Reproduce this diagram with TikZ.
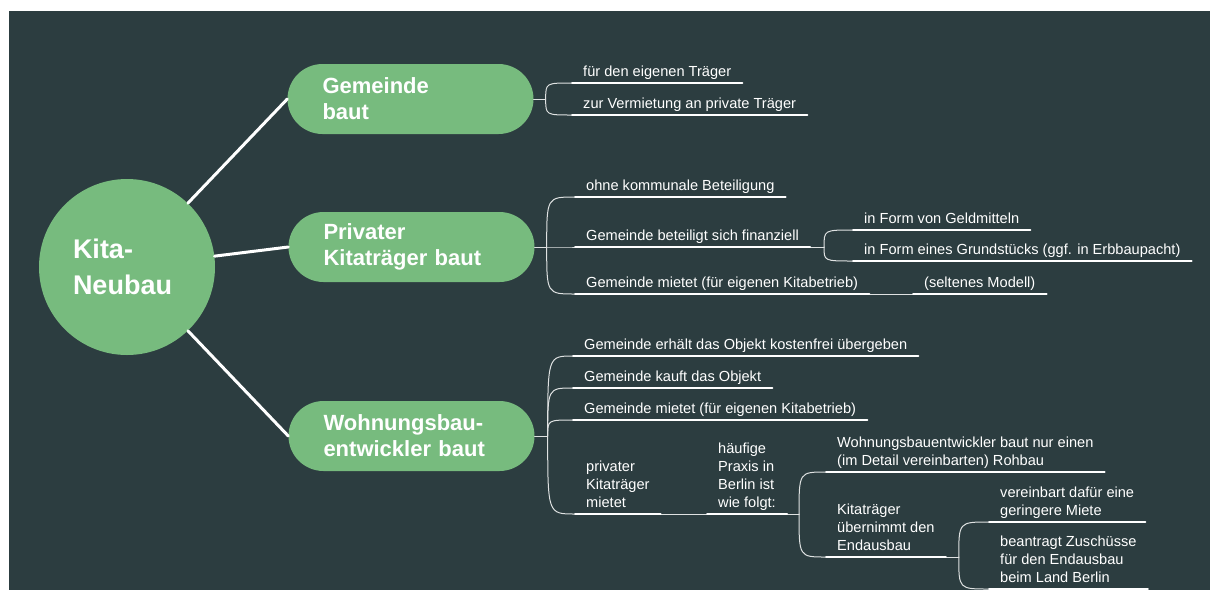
\documentclass[tikz,border=0pt]{standalone}
\usepackage{fontspec}
\setmainfont{Liberation Sans}
\usetikzlibrary{shapes.misc}
\definecolor{bgdark}{RGB}{44,61,64}
\definecolor{nodegreen}{RGB}{119,187,126}
\newcommand\leafbox[1]{\begin{tabular}[b]{@{}l@{}}#1\end{tabular}}
\begin{document}
\begin{tikzpicture}[x=1pt,y=-1pt,line join=round,line cap=round,
	root/.style={circle,fill=nodegreen,text=white,minimum size=176pt,inner sep=0pt,
		text width=108pt,align=left,font=\fontsize{27}{36}\selectfont\bfseries},
	branch/.style={rounded rectangle,fill=nodegreen,text=white,minimum height=70pt,
		minimum width=246pt,inner xsep=0pt,inner ysep=0pt,text width=176pt,align=left,
		font=\fontsize{22}{26}\selectfont\bfseries},
	leaf/.style={anchor=south west,text=white,inner xsep=11pt,inner ysep=0pt,text depth=6.5pt,
		font=\fontsize{14.6}{18}\selectfont},
	main/.style={draw=white,line width=3pt},
	conn/.style={draw=white!85!bgdark,line width=1pt},
	uline/.style={draw=white,line width=2pt}]
	\useasboundingbox (0,0) rectangle (1210,590);
	\fill[white] (0,0) rectangle (1210,590);
	\fill[bgdark] (9,11) rectangle (1210,590);
	\node[root] (kita) at (127,267) {Kita-\\Neubau};
	\node[branch] (gem) at (410.5,99) {Gemeinde\\baut};
	\node[branch] (priv) at (411.5,247) {Privater\\Kitaträger baut};
	\node[branch] (wohn) at (411.5,436) {Wohnungsbau-\\entwickler baut};
	\draw[main] (kita) -- (gem.west);
	\draw[main] (kita) -- (priv.west);
	\draw[main] (kita) -- (wohn.west);
	% Gemeinde baut
	\node[leaf] (gem1) at (572,83) {\leafbox{für den eigenen Träger}};
	\node[leaf] (gem2) at (572,115) {\leafbox{zur Vermietung an private Träger}};
	% Privater Kitaträger baut
	\node[leaf] (priv1) at (575,197) {\leafbox{ohne kommunale Beteiligung}};
	\node[leaf] (priv2) at (575,247) {\leafbox{Gemeinde beteiligt sich finanziell}};
	\node[leaf] (priv21) at (853,230) {\leafbox{in Form von Geldmitteln}};
	\node[leaf] (priv22) at (853,261) {\leafbox{in Form eines Grundstücks (ggf. in Erbbaupacht)}};
	\node[leaf] (priv3) at (575,294) {\leafbox{Gemeinde mietet (für eigenen Kitabetrieb)}};
	\node[leaf] (priv31) at (913,294) {\leafbox{(seltenes Modell)}};
	% Wohnungsbauentwickler baut
	\node[leaf] (wohn1) at (573,356) {\leafbox{Gemeinde erhält das Objekt kostenfrei übergeben}};
	\node[leaf] (wohn2) at (573,388) {\leafbox{Gemeinde kauft das Objekt}};
	\node[leaf] (wohn3) at (573,420) {\leafbox{Gemeinde mietet (für eigenen Kitabetrieb)}};
	\node[leaf] (wohn4) at (575,514) {\leafbox{privater\\Kitaträger\\mietet}};
	\node[leaf] (wohn41) at (707,514) {\leafbox{häufige\\Praxis in\\Berlin ist\\wie folgt:}};
	\node[leaf] (wohn411) at (826,472) {\leafbox{Wohnungsbauentwickler baut nur einen\\(im Detail vereinbarten) Rohbau}};
	\node[leaf] (wohn412) at (826,557) {\leafbox{Kitaträger\\übernimmt den\\Endausbau}};
	\node[leaf] (wohn4121) at (989,522) {\leafbox{vereinbart dafür eine\\geringere Miete}};
	\node[leaf] (wohn4122) at (989,589) {\leafbox{beantragt Zuschüsse\\für den Endausbau\\beim Land Berlin}};
	\coordinate (gemJ) at ([xshift=12pt]gem.east);
	\coordinate (privJ) at ([xshift=12pt]priv.east);
	\coordinate (priv2J) at ([xshift=14pt]priv2.south east);
	\coordinate (wohnJ) at ([xshift=13pt]wohn.east);
	\coordinate (wohn41J) at ([xshift=12pt]wohn41.south east);
	\coordinate (wohn412J) at ([xshift=13pt]wohn412.south east);
	\draw[conn] (gem.east) -- (gemJ);
	\draw[conn] (priv.east) -- (privJ);
	\draw[conn] (wohn.east) -- (wohnJ);
	\draw[conn] (priv2.south east) -- (priv2J);
	\draw[conn] (wohn41.south east) -- (wohn41J);
	\draw[conn] (wohn412.south east) -- (wohn412J);
	\draw[conn] (priv3.south east) -- (priv31.south west);
	\draw[conn] (wohn4.south east) -- (wohn41.south west);
	\foreach \n in {gem1,gem2}
		\draw[conn] (gemJ) .. controls (gemJ |- \n.south west) .. (\n.south west);
	\foreach \n in {priv1,priv2,priv3}
		\draw[conn] (privJ) .. controls (privJ |- \n.south west) .. (\n.south west);
	\foreach \n in {priv21,priv22}
		\draw[conn] (priv2J) .. controls (priv2J |- \n.south west) .. (\n.south west);
	\foreach \n in {wohn1,wohn2,wohn3,wohn4}
		\draw[conn] (wohnJ) .. controls (wohnJ |- \n.south west) .. (\n.south west);
	\foreach \n in {wohn411,wohn412}
		\draw[conn] (wohn41J) .. controls (wohn41J |- \n.south west) .. (\n.south west);
	\foreach \n in {wohn4121,wohn4122}
		\draw[conn] (wohn412J) .. controls (wohn412J |- \n.south west) .. (\n.south west);
	\foreach \n in {gem1,gem2,priv1,priv2,priv21,priv22,priv3,priv31,wohn1,wohn2,wohn3,wohn4,wohn41,wohn411,wohn412,wohn4121,wohn4122}
		\draw[uline] (\n.south west) -- (\n.south east);
\end{tikzpicture}
\end{document}
